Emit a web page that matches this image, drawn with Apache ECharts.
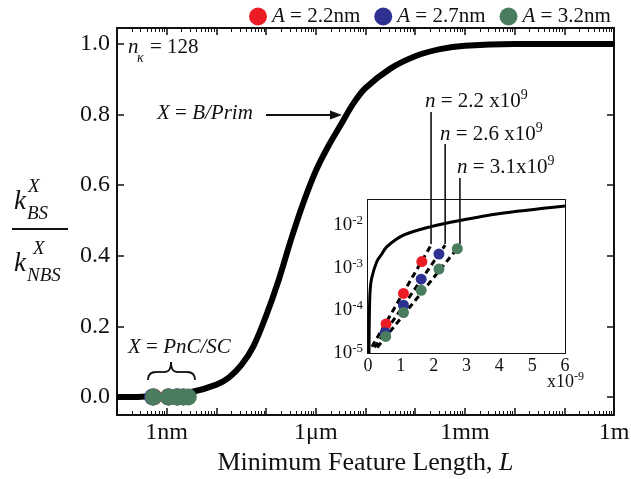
<!DOCTYPE html>
<html><head><meta charset="utf-8">
<script src="https://cdn.jsdelivr.net/npm/echarts@6/dist/echarts.min.js"></script>
<style>html,body{margin:0;padding:0;background:#fff}#c{width:631px;height:479px}</style>
</head><body><div id="c"></div>
<script>
// ---------- data ----------
// main curve: minimum feature length L (m) vs ratio k_BS/k_NBS
const curveLengthsM = [1e-10, 3.16e-10, 1e-9, 3.16e-9, 1e-8, 1.78e-8, 3.16e-8, 5.62e-8, 1e-7, 1.78e-7, 3.16e-7, 5.62e-7, 1e-6, 1.78e-6, 3.16e-6, 5.62e-6, 1e-5, 3.16e-5, 1e-4, 3.16e-4, 1e-3, 1e-2, 1e-1, 1];
const curveRatio    = [0.0, 0.001, 0.006, 0.014, 0.035, 0.055, 0.09, 0.145, 0.23, 0.33, 0.445, 0.55, 0.64, 0.71, 0.77, 0.83, 0.875, 0.93, 0.965, 0.985, 0.995, 1.0, 1.0, 1.0];

// inset curve (x in units of 1e-9 m, log y)
const insetCurveX = [0.03, 0.04, 0.06, 0.11, 0.27, 0.42, 0.57, 1.08, 1.89, 2.8, 3.97, 6.0];
const insetCurveY = [1.0e-5, 6.3e-5, 2.5e-4, 5.6e-4, 1.4e-3, 2.1e-3, 3.1e-3, 5.8e-3, 9.1e-3, 1.29e-2, 1.86e-2, 2.82e-2];

// points for the three A values (x in units of 1e-9 m)
const seriesNames  = ['A = 2.2nm', 'A = 2.7nm', 'A = 3.2nm'];
const redX   = [0.55, 1.08, 1.64];
const redY   = [4.8e-5, 2.5e-4, 1.4e-3];
const blueX  = [0.52, 1.08, 1.62, 2.16];
const blueY  = [3.0e-5, 1.32e-4, 5.4e-4, 2.1e-3];
const greenX = [0.54, 1.08, 1.62, 2.16, 2.72];
const greenY = [2.45e-5, 8.9e-5, 2.95e-4, 9.3e-4, 2.8e-3];

// dashed fits
const fitRedX   = [0.12, 1.92], fitRedY   = [1.4e-5, 3.4e-3];
const fitBlueX  = [0.20, 2.35], fitBlueY  = [1.35e-5, 3.4e-3];
const fitGreenX = [0.28, 2.80], fitGreenY = [1.35e-5, 3.4e-3];
const nValues = ['2.2', '2.6', '3.1'];

// ticks
const mainXTickValues = [1e-9, 1e-6, 1e-3, 1];
const mainXTickLabels = ['1nm', '1\u03bcm', '1mm', '1m'];
const mainYTicks = [0, 0.2, 0.4, 0.6, 0.8, 1.0];
const insetYTickValues = [1e-5, 1e-4, 1e-3, 1e-2];

// ---------- style ----------
const FONT = 'Liberation Serif';
const INK = '#111';
const colors = ['#EC1C24', '#2E3192', '#4A7C5E'];
const lg = Math.log10;

const decades = [];
for (let d = -10; d <= 0; d++) decades.push(d);
const minors = [];
for (let d = -10; d < 0; d++) for (let k = 2; k <= 9; k++) minors.push(d + lg(k));

const axLine = { show: true, onZero: false, lineStyle: { color: INK, width: 2 } };
const noLine = { show: false, onZero: false };
function xAx(o) {
  return Object.assign({ type: 'value', splitLine: { show: false }, minorTick: { show: false } }, o);
}

const xAxis = [
  xAx({ gridIndex: 0, min: -10, max: 0, position: 'bottom', axisLine: axLine,
    axisTick: { show: true, inside: true, length: 7, customValues: decades, lineStyle: { color: INK, width: 1.5 } },
    axisLabel: { show: true, customValues: mainXTickValues.map(lg), margin: 6, fontFamily: FONT, fontSize: 24, color: INK,
      formatter: v => { const i = mainXTickValues.findIndex(t => Math.abs(lg(t) - v) < 1e-6); return i >= 0 ? mainXTickLabels[i] : ''; } },
    name: 'Minimum Feature Length, {i|L}', nameLocation: 'middle', nameGap: 27,
    nameTextStyle: { fontFamily: FONT, fontSize: 26, color: INK, rich: { i: { fontFamily: FONT, fontSize: 26, fontStyle: 'italic', color: INK } } } }),
  xAx({ gridIndex: 0, min: -10, max: 0, position: 'bottom', axisLine: noLine,
    axisTick: { show: true, inside: true, length: 4, customValues: minors, lineStyle: { color: INK, width: 1 } },
    axisLabel: { show: false } }),
  xAx({ gridIndex: 0, min: -10, max: 0, position: 'top', axisLine: axLine,
    axisTick: { show: true, inside: true, length: 7, customValues: decades, lineStyle: { color: INK, width: 1.5 } },
    axisLabel: { show: false } }),
  xAx({ gridIndex: 0, min: -10, max: 0, position: 'top', axisLine: noLine,
    axisTick: { show: true, inside: true, length: 4, customValues: minors, lineStyle: { color: INK, width: 1 } },
    axisLabel: { show: false } }),
  xAx({ gridIndex: 1, min: 0, max: 6, interval: 1, position: 'bottom',
    axisLine: { show: true, onZero: false, lineStyle: { color: INK, width: 2 } },
    axisTick: { show: true, inside: true, length: 4, lineStyle: { color: INK, width: 1 } },
    axisLabel: { show: true, margin: 4, fontFamily: FONT, fontSize: 18, color: INK } }),
  xAx({ gridIndex: 1, min: 0, max: 6, interval: 1, position: 'top',
    axisLine: { show: true, onZero: false, lineStyle: { color: INK, width: 2 } },
    axisTick: { show: true, inside: true, length: 4, lineStyle: { color: INK, width: 1 } },
    axisLabel: { show: false } })
];

const yAxis = [
  { gridIndex: 0, type: 'value', min: -0.051, max: 1.045, position: 'left', axisLine: axLine, splitLine: { show: false },
    axisTick: { show: true, inside: true, length: 7, customValues: mainYTicks, lineStyle: { color: INK, width: 1.5 } },
    axisLabel: { show: true, customValues: mainYTicks, margin: 7, fontFamily: FONT, fontSize: 24, color: INK, formatter: v => v.toFixed(1) } },
  { gridIndex: 0, type: 'value', min: -0.051, max: 1.045, position: 'right', axisLine: axLine, splitLine: { show: false },
    axisTick: { show: true, inside: true, length: 7, customValues: mainYTicks, lineStyle: { color: INK, width: 1.5 } },
    axisLabel: { show: false } },
  { gridIndex: 1, type: 'value', min: -5, max: -1.41, position: 'left',
    axisLine: { show: true, onZero: false, lineStyle: { color: INK, width: 2 } }, splitLine: { show: false },
    axisTick: { show: true, inside: true, length: 4, customValues: insetYTickValues.map(lg), lineStyle: { color: INK, width: 1 } },
    axisLabel: { show: true, customValues: insetYTickValues.map(lg), margin: 5, fontFamily: FONT, fontSize: 19, color: INK,
      formatter: v => '{b|10}{s|' + Math.round(v) + '}',
      rich: { b: { fontFamily: FONT, fontSize: 19, color: INK, lineHeight: 22 },
              s: { fontFamily: FONT, fontSize: 13, color: INK, lineHeight: 13, verticalAlign: 'top' } } } },
  { gridIndex: 1, type: 'value', min: -5, max: -1.41, position: 'right',
    axisLine: { show: true, onZero: false, lineStyle: { color: INK, width: 2 } }, splitLine: { show: false },
    axisTick: { show: true, inside: true, length: 4, customValues: insetYTickValues.map(lg), lineStyle: { color: INK, width: 1 } },
    axisLabel: { show: false } }
];

const ptsX = [redX, blueX, greenX], ptsY = [redY, blueY, greenY];
const fitsX = [fitRedX, fitBlueX, fitGreenX], fitsY = [fitRedY, fitBlueY, fitGreenY];

const series = [];
series.push({ type: 'line', xAxisIndex: 0, yAxisIndex: 0, silent: true, symbol: 'none', smooth: 0.3,
  data: curveLengthsM.map((L, i) => [lg(L), curveRatio[i]]), lineStyle: { color: '#000', width: 6 }, z: 2 });
for (let i = 0; i < 3; i++) {
  series.push({ type: 'scatter', name: seriesNames[i], xAxisIndex: 0, yAxisIndex: 0, symbolSize: 17, silent: true,
    data: ptsX[i].map(x => [lg(x * 1e-9), 0]), itemStyle: { color: colors[i], opacity: 1 }, z: 3 + i });
}
series.push({ type: 'line', xAxisIndex: 4, yAxisIndex: 2, silent: true, symbol: 'none', smooth: 0.3,
  data: insetCurveX.map((x, i) => [x, lg(insetCurveY[i])]), lineStyle: { color: '#000', width: 3 }, z: 2 });
for (let i = 0; i < 3; i++) {
  series.push({ type: 'line', xAxisIndex: 4, yAxisIndex: 2, silent: true, symbol: 'none',
    data: fitsX[i].map((x, j) => [x, lg(fitsY[i][j])]), lineStyle: { color: '#000', width: 3, type: [6, 4] }, z: 3 });
}
for (let i = 0; i < 3; i++) {
  series.push({ type: 'scatter', name: seriesNames[i], xAxisIndex: 4, yAxisIndex: 2, symbolSize: 11, silent: true,
    data: ptsX[i].map((x, j) => [x, lg(ptsY[i][j])]), itemStyle: { color: colors[i], opacity: 1 }, z: 5 });
}

function T(text, x, y, size, opt) {
  opt = opt || {};
  const st = { text: text, x: x, y: y, fontFamily: FONT, fontSize: size, fontStyle: opt.italic ? 'italic' : 'normal',
    fill: INK, align: opt.align || 'left', textAlign: opt.align || 'left', verticalAlign: 'middle', textVerticalAlign: 'middle' };
  if (opt.rich) st.rich = opt.rich;
  return { type: 'text', z: 100, silent: true, style: st };
}
const R = (size, lh) => ({
  i: { fontFamily: FONT, fontSize: size, fontStyle: 'italic', color: INK, fill: INK, lineHeight: lh },
  r: { fontFamily: FONT, fontSize: size, color: INK, fill: INK, lineHeight: lh },
  s: { fontFamily: FONT, fontSize: Math.round(size * 0.68), color: INK, fill: INK, lineHeight: Math.round(size * 0.68), verticalAlign: 'top' }
});
const L = (x1, y1, x2, y2, w) => ({ type: 'line', z: 100, silent: true, shape: { x1, y1, x2, y2 }, style: { stroke: INK, lineWidth: w || 1.8 } });
const Q = (x1, y1, cx, cy, x2, y2) => ({ type: 'bezierCurve', z: 100, silent: true, shape: { x1, y1, cpx1: cx, cpy1: cy, x2, y2 }, style: { stroke: INK, fill: 'none', lineWidth: 1.8 } });

const graphic = [
  // y-axis title fraction
  T('k', 14, 202, 27, { italic: true }),
  T('X', 28, 187, 19, { italic: true }),
  T('BS', 27, 214, 19, { italic: true }),
  L(12, 229, 68, 229, 2.2),
  T('k', 14, 264, 27, { italic: true }),
  T('X', 33, 249, 19, { italic: true }),
  T('NBS', 27, 276, 19, { italic: true }),
  // n_kappa
  T('n', 128, 47, 21, { italic: true }),
  T('\u03ba', 137, 58, 14, { italic: true }),
  T('= 128', 150, 47, 21),
  // X = B/Prim with arrow
  T('{i|X}{r| = }{i|B/Prim}', 157, 113, 21, { rich: R(21, 24) }),
  L(266, 115, 333, 115, 2),
  { type: 'polygon', z: 100, silent: true, shape: { points: [[342, 115], [330, 110.5], [330, 119.5]] }, style: { fill: INK } },
  // X = PnC/SC with brace
  T('{i|X}{r| = }{i|PnC/SC}', 128, 347, 21, { rich: R(21, 24) }),
  Q(148, 380, 148, 372, 156, 372),
  L(156, 372, 165, 372),
  Q(165, 372, 171, 372, 171, 362),
  Q(171, 362, 171, 372, 177, 372),
  L(177, 372, 187, 372),
  Q(187, 372, 195, 372, 195, 380),
  // n labels
  T('{i|n}{r| = ' + nValues[0] + ' x10}{s|9}', 425, 101, 21, { rich: R(21, 26) }),
  T('{i|n}{r| = ' + nValues[1] + ' x10}{s|9}', 440, 134, 21, { rich: R(21, 26) }),
  T('{i|n}{r| = ' + nValues[2] + 'x10}{s|9}', 457, 167, 21, { rich: R(21, 26) }),
  // inset x multiplier
  T('{r|x10}{s|-9}', 547, 382, 18, { rich: R(18, 22) })
];

const chart = echarts.init(document.getElementById('c'), null, { renderer: 'canvas' });
chart.setOption({
  animation: false,
  backgroundColor: '#fff',
  grid: [
    { left: 117, top: 28, width: 497, height: 387, containLabel: false, outerBoundsMode: 'none' },
    { left: 368, top: 200, width: 197, height: 153, containLabel: false, outerBoundsMode: 'none', show: true, backgroundColor: '#fff', borderWidth: 0, z: 1 }
  ],
  legend: {
    data: seriesNames, left: 244, top: 1, icon: 'circle', itemWidth: 18, itemHeight: 18, itemGap: 14, selectedMode: false,
    formatter: n => '{i|A}' + n.slice(1),
    textStyle: { fontFamily: FONT, fontSize: 21, color: INK, rich: { i: { fontFamily: FONT, fontSize: 21, fontStyle: 'italic', color: INK } } }
  },
  xAxis: xAxis,
  yAxis: yAxis,
  series: series,
  graphic: graphic
});

// leader lines from each fit's top end up to its label
const leaderTops = [112, 144, 178];
const leaders = [];
for (let i = 0; i < 3; i++) {
  const p = chart.convertToPixel({ xAxisIndex: 4, yAxisIndex: 2 }, [fitsX[i][1], lg(fitsY[i][1])]);
  if (p) leaders.push(L(p[0], leaderTops[i], p[0], p[1] - 1, 1.6));
}
chart.setOption({ graphic: graphic.concat(leaders) });
</script>
</body></html>
